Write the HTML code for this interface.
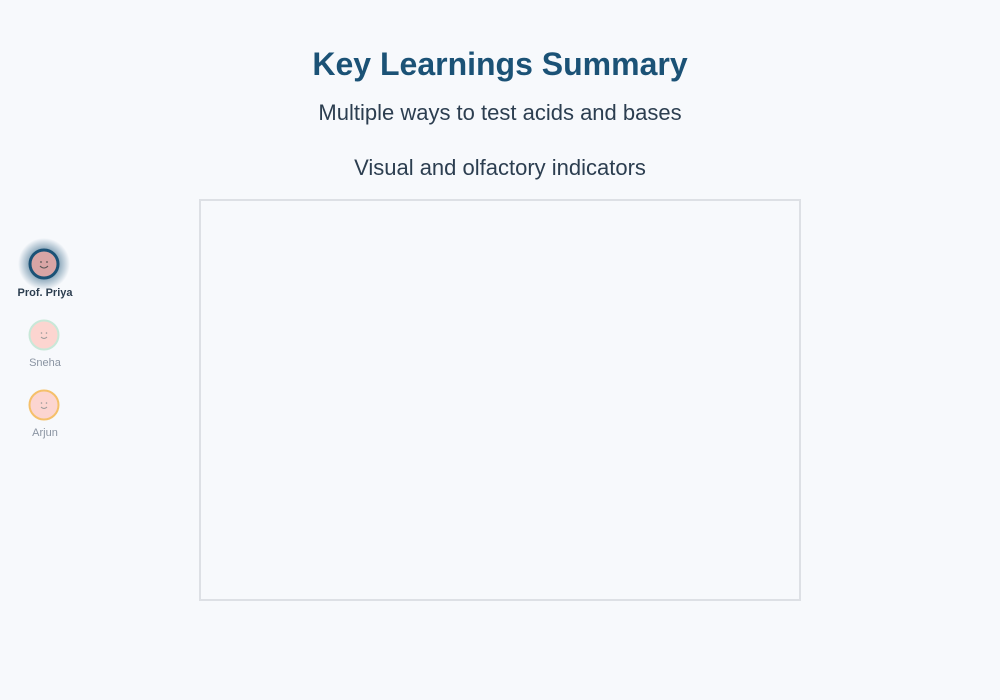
<!DOCTYPE html>
<html><head><style>
body{margin:0;width:1000px;height:700px;background:#f7f9fc;font-family:"Liberation Sans",sans-serif;position:relative;overflow:hidden}
.t{position:absolute;left:0;width:1000px;text-align:center}
.lb{position:absolute;left:0;width:90px;text-align:center;font-size:11px;color:#8a94a2}
</style></head><body>
<div class="t" style="top:46px;font-size:32px;font-weight:bold;color:#1b5276">Key Learnings Summary</div>
<div class="t" style="top:100px;font-size:22px;color:#2c3e50">Multiple ways to test acids and bases</div>
<div class="t" style="top:155px;font-size:22px;color:#2c3e50">Visual and olfactory indicators</div>
<div style="position:absolute;left:199px;top:199px;width:598px;height:398px;border:2px solid #dde0e5"></div>

<svg width="100" height="450" style="position:absolute;left:0;top:0">
<defs><radialGradient id="g"><stop offset="0.5" stop-color="#1b5276" stop-opacity="0.55"/><stop offset="1" stop-color="#1b5276" stop-opacity="0"/></radialGradient></defs>
<circle cx="44" cy="264" r="26" fill="url(#g)"/>
<circle cx="44" cy="264" r="14" fill="#d8a5a5" stroke="#1b5276" stroke-width="3"/>
<circle cx="41" cy="262" r="0.9" fill="#555"/><circle cx="47" cy="262" r="0.9" fill="#555"/>
<path d="M40 266 Q44 270 48 266" stroke="#555" fill="none" stroke-width="1"/>
<circle cx="44" cy="335" r="14.5" fill="#fcd5d0" stroke="#c8e8d8" stroke-width="2"/>
<circle cx="41.5" cy="333" r="0.8" fill="#999"/><circle cx="46.5" cy="333" r="0.8" fill="#999"/>
<path d="M41 337 Q44 340 47 337" stroke="#999" fill="none" stroke-width="1"/>
<circle cx="44" cy="405" r="14.5" fill="#fcd5d0" stroke="#f5c06a" stroke-width="2"/>
<circle cx="41.5" cy="403" r="0.8" fill="#999"/><circle cx="46.5" cy="403" r="0.8" fill="#999"/>
<path d="M41 407 Q44 410 47 407" stroke="#999" fill="none" stroke-width="1"/>
</svg>
<div class="lb" style="top:287px;font-weight:bold;color:#2c3e50">Prof. Priya</div>
<div class="lb" style="top:357px">Sneha</div>
<div class="lb" style="top:427px">Arjun</div>
</body></html>
